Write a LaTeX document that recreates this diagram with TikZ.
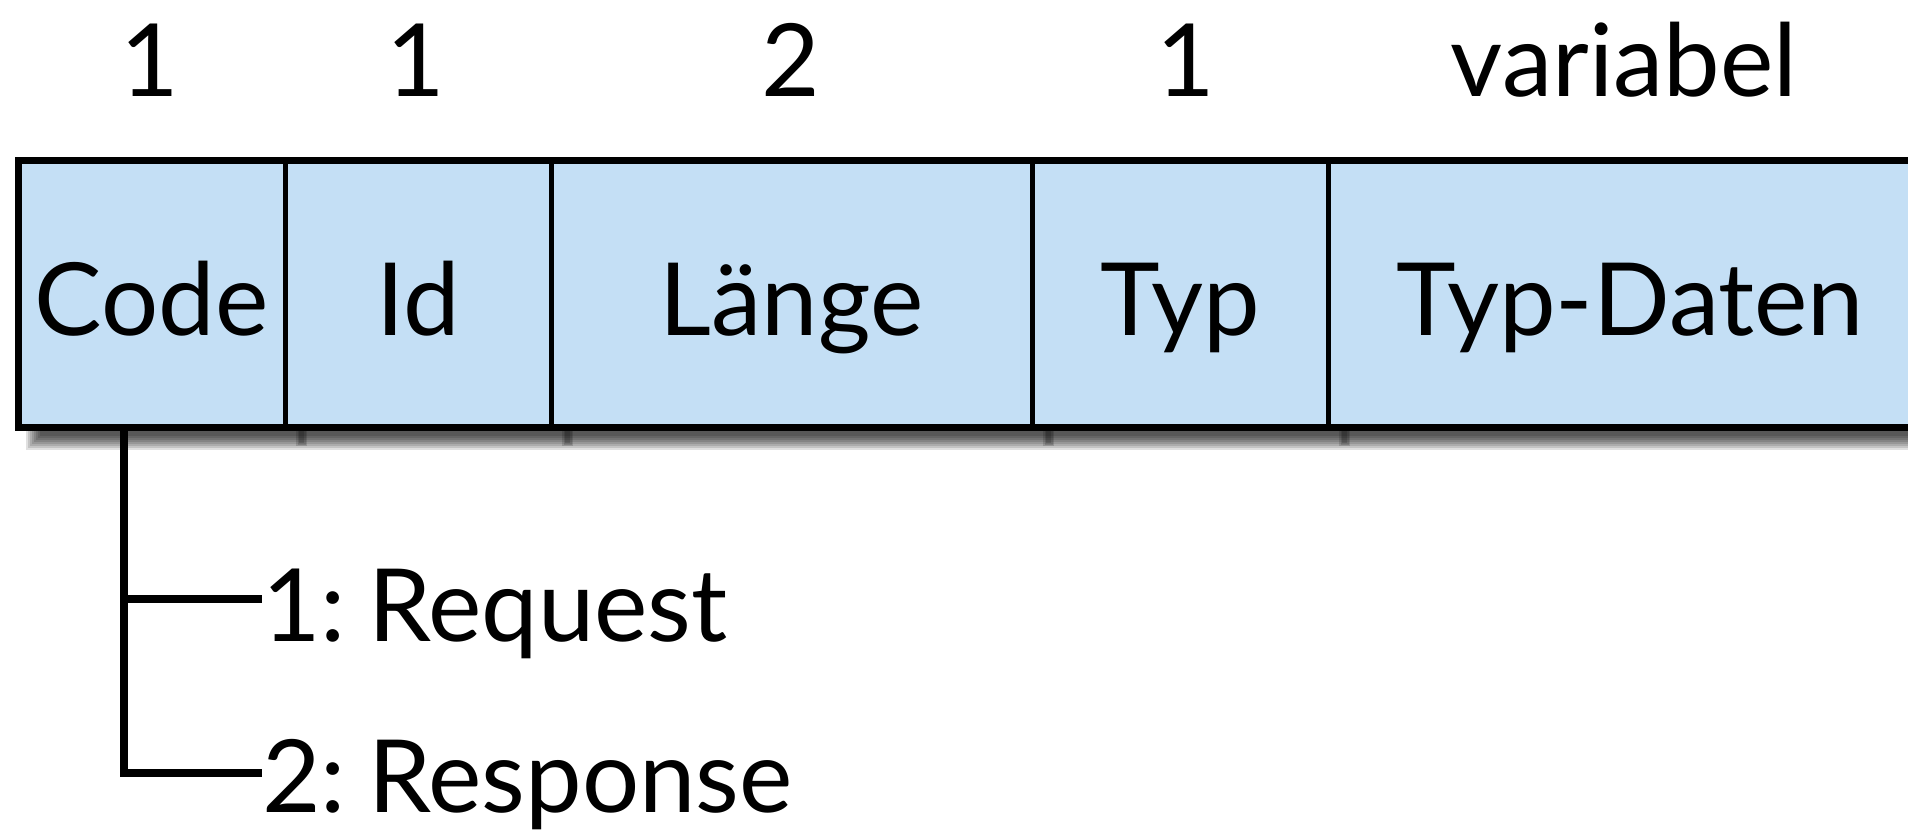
\documentclass[tikz,border=0pt]{standalone}
\usepackage{fontspec}
\setmainfont{Lato}
\definecolor{cellblue}{RGB}{196,223,245}
\begin{document}
\begin{tikzpicture}[x=1pt,y=-1pt,
  cell/.style={draw=black,line width=5pt,fill=cellblue,minimum height=266pt,inner sep=0pt,
    text height=82pt,text depth=0pt,font=\fontsize{101}{101}\selectfont},
  toplabel/.style={anchor=base,inner sep=0pt,font=\fontsize{101}{101}\selectfont},
  sublabel/.style={anchor=base west,inner sep=0pt,font=\fontsize{101}{101}\selectfont},
  conn/.style={line width=8pt},
  frame/.style={line width=7pt}]
\useasboundingbox (0,0) rectangle (1908,837);
\fill[white] (0,0) rectangle (1908,837);
% blurred drop shadow (offset right and down)
\foreach \d in {-7,-5,-3,-1,1,3,5,7}
  \fill[black,opacity=0.12] (33-\d,200) rectangle (1940,443+\d);
\foreach \x in {285,551,1032,1328}
  \foreach \d in {0,1.5,3}
    \fill[black,opacity=0.14] (\x+14-\d,430) rectangle (\x+19+\d,443+\d);
\node[cell,minimum width=267pt] (code) at (151.5,294) {Code};
\node[cell,minimum width=266pt] (id) at (418,294) {Id};
\node[cell,minimum width=481pt] (laenge) at (791.5,294) {Länge};
\node[cell,minimum width=296pt] (typ) at (1180,294) {Typ};
\node[cell,minimum width=604pt] (daten) at (1630,294) {Typ-Daten};
\draw[frame] (15,161) -- (1935,161) (15,427) -- (1935,427) (18.5,157.5) -- (18.5,430.5);
\node[toplabel] (s1) at (150,97) {1};
\node[toplabel] (s2) at (416,97) {1};
\node[toplabel] (s3) at (791,97) {2};
\node[toplabel] (s4) at (1186,97) {1};
\node[toplabel] (s5) at (1624,97) {variabel};
\node[sublabel] (req) at (262,641) {1:\hspace{0.22em}Request};
\node[sublabel] (resp) at (262,812) {2:\hspace{0.22em}Response};
\coordinate (stem) at (124,430);
\coordinate (b1) at (124,599);
\coordinate (b2) at (124,773);
\draw[conn] (stem) -- (b2) -- (b2 -| req.west);
\draw[conn] (b1) -- (b1 -| req.west);
\end{tikzpicture}
\end{document}
